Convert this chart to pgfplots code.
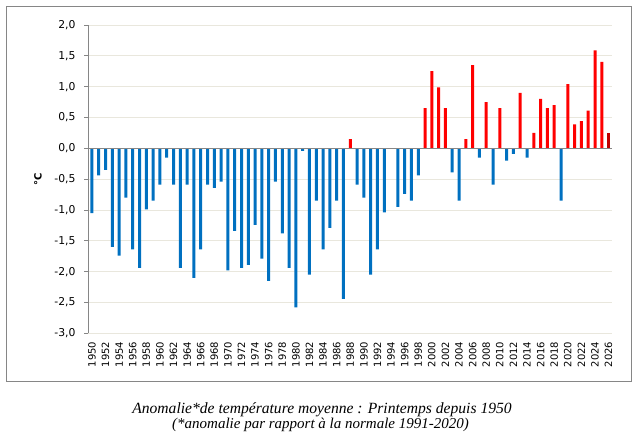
\documentclass[border=0pt]{standalone}
\usepackage{pgfplots}
\pgfplotsset{compat=1.18}
\usepackage{fontspec}
\setmainfont{DejaVu Sans}
\newfontfamily\capfont{Liberation Serif}

\definecolor{barblue}{HTML}{0070C0}
\definecolor{barred}{HTML}{FF0000}
\definecolor{bardark}{HTML}{C00000}
\definecolor{gridtan}{HTML}{E9E7DD}
\definecolor{axisgray}{HTML}{868686}

\begin{document}
\begin{tikzpicture}
\useasboundingbox (0pt,0pt) rectangle (643pt,-435pt);
% chart frame
\draw[axisgray, line width=0.9pt] (6pt,-6pt) rectangle (631pt,-381pt);

\begin{axis}[
  at={(88pt,-333.3pt)}, anchor=south west,
  scale only axis, width=524pt, height=308.3pt,
  xmin=1949.42, xmax=2026.5,
  ymin=-3, ymax=2,
  ytick={-3,-2.5,...,2},
  xtick={1950,1952,...,2026},
  axis lines*=left,
  x axis line style={draw=none},
  y axis line style={draw=axisgray, line width=0.8pt},
  ymajorgrids, grid style={gridtan, line width=0.9pt},
  tick align=outside, major tick length=4pt,
  ytick style={draw=axisgray, line width=0.8pt},
  xtick style={draw=none},
  font=\fontsize{10}{12}\selectfont,
  /pgf/number format/assume math mode=true,
  yticklabel style={font=\fontsize{10.8}{12}\selectfont, xshift=-5pt,
     /pgf/number format/.cd, fixed, fixed zerofill, precision=1, use comma},
  xticklabel style={rotate=90, anchor=east, xshift=-1pt,
     /pgf/number format/.cd, set thousands separator={}},
  ylabel={\bfseries °C},
  ylabel style={font=\fontsize{12.5}{14}\selectfont},
  every axis y label/.style={at={(axis description cs:-0.0955,0.5)}, rotate=90, anchor=center},
  clip=false,
]
\addplot[ybar, bar width=3pt, bar shift=0pt, fill=barblue, draw=none] coordinates {
 (1950,-1.05) (1951,-0.44) (1952,-0.35) (1953,-1.60) (1954,-1.74)
 (1955,-0.80) (1956,-1.64) (1957,-1.94) (1958,-0.99) (1959,-0.85)
 (1960,-0.59) (1961,-0.15) (1962,-0.59) (1963,-1.94) (1964,-0.59)
 (1965,-2.10) (1966,-1.64) (1967,-0.59) (1968,-0.64) (1969,-0.54)
 (1970,-1.98) (1971,-1.34) (1972,-1.94) (1973,-1.89) (1974,-1.24)
 (1975,-1.79) (1976,-2.15) (1977,-0.54) (1978,-1.38) (1979,-1.94)
 (1980,-2.58) (1981,-0.04) (1982,-2.05) (1983,-0.85) (1984,-1.64)
 (1985,-1.29) (1986,-0.85) (1987,-2.44) (1989,-0.59) (1990,-0.80)
 (1991,-2.05) (1992,-1.64) (1993,-1.04) (1995,-0.95) (1996,-0.74)
 (1997,-0.85) (1998,-0.44) (2003,-0.39) (2004,-0.85) (2007,-0.15)
 (2009,-0.59) (2011,-0.20) (2012,-0.09) (2014,-0.15) (2019,-0.85)
};
\addplot[ybar, bar width=3pt, bar shift=0pt, fill=barred, draw=none] coordinates {
 (1988,0.15) (1999,0.65) (2000,1.25) (2001,0.99) (2002,0.65)
 (2005,0.15) (2006,1.35) (2008,0.75) (2010,0.65) (2013,0.90)
 (2015,0.25) (2016,0.80) (2017,0.65) (2018,0.70) (2020,1.04)
 (2021,0.39) (2022,0.44) (2023,0.61) (2024,1.59) (2025,1.40)
};
\addplot[ybar, bar width=3pt, bar shift=0pt, fill=bardark, draw=none] coordinates {
 (2026,0.25)
};
% horizontal axis through zero
\draw[axisgray, line width=0.8pt] (axis cs:1949.42,0) -- (axis cs:2026.5,0);
\end{axis}

\node[font=\capfont\itshape\fontsize{15.6}{17}\selectfont] at (322pt,-410pt)
  {Anomalie*de température moyenne : Printemps depuis 1950};
\node[font=\capfont\itshape\fontsize{15}{17}\selectfont] at (320.5pt,-425pt)
  {(*anomalie par rapport à la normale 1991-2020)};
\end{tikzpicture}
\end{document}
